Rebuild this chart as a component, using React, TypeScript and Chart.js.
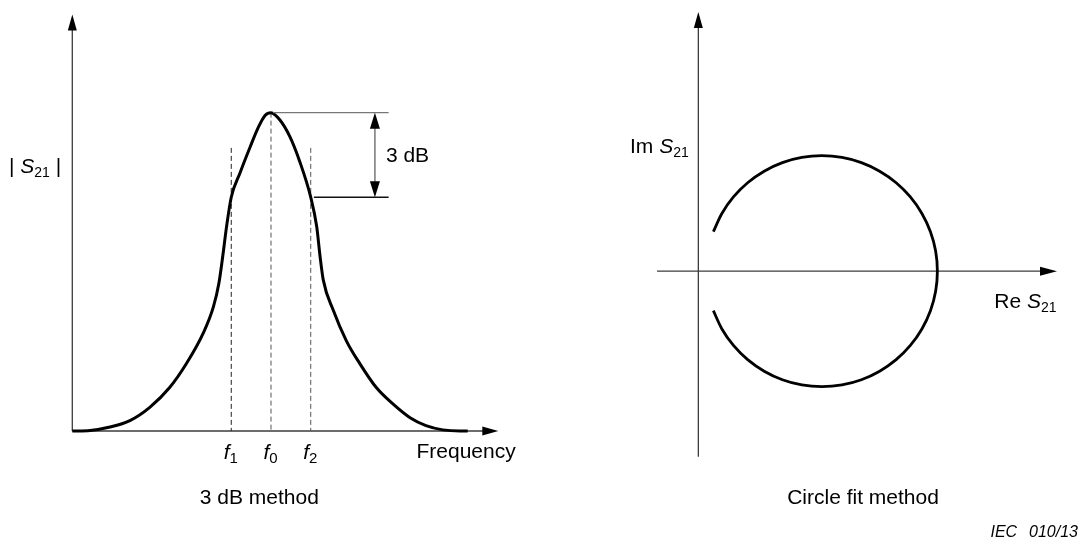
import { useEffect, useRef } from "react";
import { Chart, registerables } from "chart.js";

Chart.register(...registerables);

const FONT = '"Liberation Sans", Arial, Helvetica, sans-serif';
const AXIS_COLOR = "#3c3c3c";

// ---------- 3 dB method: |S21| in dB (relative to resonance) vs frequency ----------
const frequency = [
  0, 0.9, 1.9, 2.9, 3.9, 4.9, 5.76, 6.59, 7.1, 7.38, 7.58, 7.76, 8.0, 8.44, 8.95, 9.35, 9.7, 10,
  10.45, 10.95, 11.45, 12.0, 12.3, 12.47, 12.63, 13.13, 13.8, 14.47, 15.3, 16.15, 17.0, 17.8,
  18.65, 19.5, 19.9,
];
const s21Db = [
  -11.29, -11.27, -11.15, -10.92, -10.45, -9.75, -8.88, -7.82, -6.89, -6.04, -5.05, -4.06, -3.0,
  -2.14, -1.22, -0.54, -0.1, 0, -0.26, -0.85, -1.74, -3.0, -4.04, -5.1, -5.93, -7.0, -8.1, -8.9,
  -9.75, -10.34, -10.82, -11.1, -11.25, -11.29, -11.29,
];
const markerFreqs = [8, 10, 12]; // f1, f0, f2
const markerNames = ["1", "0", "2"];
const markerTopDb = [-1.25, 0, -1.25];
const peakDb = 0;
const halfPowerDb = -3;
const freqMin = 0;
const freqMax = 21.44;
const dbMin = -11.29;
const dbMax = 3.48;
// 3 dB bracket (frequency positions)
const bracketTopFrom = 10.1;
const bracketLowFrom = 12.16;
const bracketTo = 15.92;
const bracketArrowAt = 15.23;

// ---------- circle fit: S21 locus in the complex plane ----------
const reS21 = [
  0.13, 0.204, 0.304, 0.427, 0.57, 0.728, 0.896, 1.07, 1.244, 1.412, 1.57, 1.713, 1.836, 1.936,
  2.01, 2.055, 2.07, 2.055, 2.01, 1.936, 1.836, 1.713, 1.57, 1.412, 1.244, 1.07, 0.896, 0.728,
  0.57, 0.427, 0.304, 0.204, 0.13,
];
const imS21 = [
  0.342, 0.5, 0.643, 0.766, 0.866, 0.94, 0.985, 1.0, 0.985, 0.94, 0.866, 0.766, 0.643, 0.5,
  0.342, 0.174, 0, -0.174, -0.342, -0.5, -0.643, -0.766, -0.866, -0.94, -0.985, -1.0, -0.985,
  -0.94, -0.866, -0.766, -0.643, -0.5, -0.342,
];
const reMin = -0.358;
const reMax = 3.106;
const imMin = -1.606;
const imMax = 2.244;

type Seg = { t: string; italic?: boolean; sub?: boolean };

function arrowHead(
  ctx: CanvasRenderingContext2D,
  tipX: number,
  tipY: number,
  dx: number,
  dy: number,
  len: number,
  half: number
) {
  const bx = tipX - dx * len;
  const by = tipY - dy * len;
  const px = -dy;
  const py = dx;
  ctx.beginPath();
  ctx.moveTo(tipX, tipY);
  ctx.lineTo(bx + px * half, by + py * half);
  ctx.lineTo(bx - px * half, by - py * half);
  ctx.closePath();
  ctx.fill();
}

function richText(
  ctx: CanvasRenderingContext2D,
  segs: Seg[],
  x: number,
  y: number,
  align: "left" | "center" | "right",
  size = 21,
  subSize = 14
) {
  const fontOf = (s: Seg) => `${s.italic ? "italic " : ""}${s.sub ? subSize : size}px ${FONT}`;
  const widths = segs.map((s) => {
    ctx.font = fontOf(s);
    return ctx.measureText(s.t).width;
  });
  const total = widths.reduce((a, b) => a + b, 0);
  let cx = align === "left" ? x : align === "center" ? x - total / 2 : x - total;
  ctx.textAlign = "left";
  ctx.textBaseline = "alphabetic";
  segs.forEach((s, i) => {
    ctx.font = fontOf(s);
    ctx.fillText(s.t, cx, s.sub ? y + 4 : y);
    cx += widths[i];
  });
}

const resonancePlugin = {
  id: "resonanceDecor",
  beforeDatasetsDraw(chart: any) {
    const { ctx, chartArea: a, scales } = chart;
    const x0 = scales.x.getPixelForValue(freqMin);
    const y0 = scales.y.getPixelForValue(dbMin);
    ctx.save();
    ctx.strokeStyle = AXIS_COLOR;
    ctx.fillStyle = "#000";
    ctx.lineWidth = 1.3;
    ctx.beginPath();
    ctx.moveTo(x0, y0);
    ctx.lineTo(x0, a.top + 14);
    ctx.moveTo(x0, y0);
    ctx.lineTo(a.right - 14, y0);
    ctx.stroke();
    arrowHead(ctx, x0, a.top, 0, -1, 16, 4.5);
    arrowHead(ctx, a.right, y0, 1, 0, 16, 4.5);
    ctx.restore();
  },
  afterDatasetsDraw(chart: any) {
    const { ctx, chartArea: a, scales } = chart;
    const X = (v: number) => scales.x.getPixelForValue(v);
    const Y = (v: number) => scales.y.getPixelForValue(v);
    ctx.save();
    // 3 dB bracket
    const yTop = Y(peakDb);
    const yLow = Y(halfPowerDb);
    ctx.lineWidth = 1.3;
    ctx.strokeStyle = "#777";
    ctx.beginPath();
    ctx.moveTo(X(bracketTopFrom), yTop);
    ctx.lineTo(X(bracketTo), yTop);
    ctx.stroke();
    ctx.strokeStyle = "#111";
    ctx.beginPath();
    ctx.moveTo(X(bracketLowFrom), yLow);
    ctx.lineTo(X(bracketTo), yLow);
    ctx.stroke();
    const xa = X(bracketArrowAt);
    ctx.strokeStyle = "#777";
    ctx.lineWidth = 1.5;
    ctx.beginPath();
    ctx.moveTo(xa, yTop + 10);
    ctx.lineTo(xa, yLow - 10);
    ctx.stroke();
    ctx.fillStyle = "#000";
    arrowHead(ctx, xa, yTop, 0, -1, 16, 5);
    arrowHead(ctx, xa, yLow, 0, 1, 16, 5);
    ctx.fillStyle = "#000";
    richText(ctx, [{ t: "3 dB" }], xa + 11, (yTop + yLow) / 2 + 7.5, "left");

    // frequency marker labels
    markerFreqs.forEach((f, i) => {
      richText(
        ctx,
        [{ t: "f", italic: true }, { t: markerNames[i], sub: true }],
        X(f) - 0.5,
        a.bottom + 27.5,
        "center",
        21,
        15
      );
    });
    richText(ctx, [{ t: "Frequency" }], 416.5, 457.5, "left");
    richText(
      ctx,
      [{ t: "| " }, { t: "S", italic: true }, { t: "21", sub: true }, { t: " |" }],
      9,
      173.3,
      "left"
    );
    richText(ctx, [{ t: "3 dB method" }], 259.3, 504, "center");
    ctx.restore();
  },
};

const circlePlugin = {
  id: "circleDecor",
  beforeDatasetsDraw(chart: any) {
    const { ctx, chartArea: a, scales } = chart;
    const x0 = scales.x.getPixelForValue(0);
    const y0 = scales.y.getPixelForValue(0);
    ctx.save();
    ctx.strokeStyle = AXIS_COLOR;
    ctx.fillStyle = "#000";
    ctx.lineWidth = 1.3;
    ctx.beginPath();
    ctx.moveTo(x0, a.bottom);
    ctx.lineTo(x0, a.top + 14);
    ctx.moveTo(a.left, y0);
    ctx.lineTo(a.right - 14, y0);
    ctx.stroke();
    arrowHead(ctx, x0, a.top, 0, -1, 16, 4.5);
    arrowHead(ctx, a.right, y0, 1, 0, 17, 4.5);
    ctx.restore();
  },
  afterDatasetsDraw(chart: any) {
    const { ctx } = chart;
    ctx.save();
    ctx.fillStyle = "#000";
    richText(ctx, [{ t: "Im " }, { t: "S", italic: true }, { t: "21", sub: true }], 90, 152.7, "left");
    richText(ctx, [{ t: "Re " }, { t: "S", italic: true }, { t: "21", sub: true }], 454.3, 308, "left");
    richText(ctx, [{ t: "Circle fit method" }], 323, 504, "center");
    ctx.font = `italic 16px ${FONT}`;
    ctx.textBaseline = "alphabetic";
    ctx.textAlign = "left";
    ctx.fillText("IEC", 450.5, 537);
    ctx.textAlign = "right";
    ctx.fillText("010/13", 538, 537);
    ctx.restore();
  },
};

const baseOptions = {
  responsive: false,
  animation: false as const,
  events: [] as any[],
  plugins: { legend: { display: false }, tooltip: { enabled: false } },
};

export default function App() {
  const leftRef = useRef<HTMLCanvasElement>(null);
  const rightRef = useRef<HTMLCanvasElement>(null);

  useEffect(() => {
    const curve = frequency.map((f, i) => ({ x: f, y: s21Db[i] }));
    const markers = markerFreqs.map((f, i) => ({
      data: [
        { x: f, y: markerTopDb[i] },
        { x: f, y: dbMin },
      ],
      borderColor: i === 0 ? "#222" : "#555",
      borderWidth: 1,
      borderDash: [5, 3],
      pointRadius: 0,
      fill: false,
      clip: false as const,
    }));

    const left = new Chart(leftRef.current!, {
      type: "line",
      data: {
        datasets: [
          {
            data: curve,
            borderColor: "#000",
            borderWidth: 3,
            pointRadius: 0,
            fill: false,
            cubicInterpolationMode: "monotone",
            clip: false as const,
          },
          ...markers,
        ],
      },
      options: {
        ...baseOptions,
        layout: { padding: { left: 72.3, top: 14.5, right: 540 - 498.3, bottom: 539 - 431 } },
        scales: {
          x: { type: "linear", min: freqMin, max: freqMax, display: false },
          y: { type: "linear", min: dbMin, max: dbMax, display: false },
        },
      } as any,
      plugins: [resonancePlugin],
    });

    const locus = reS21.map((r, i) => ({ x: r, y: imS21[i] }));
    const right = new Chart(rightRef.current!, {
      type: "line",
      data: {
        datasets: [
          {
            data: locus,
            borderColor: "#000",
            borderWidth: 2.8,
            pointRadius: 0,
            fill: false,
            tension: 0.33,
            clip: false as const,
          },
        ],
      },
      options: {
        ...baseOptions,
        layout: { padding: { left: 117, top: 12, right: 541 - 517, bottom: 539 - 456.7 } },
        scales: {
          x: { type: "linear", min: reMin, max: reMax, display: false },
          y: { type: "linear", min: imMin, max: imMax, display: false },
        },
      } as any,
      plugins: [circlePlugin],
    });

    return () => {
      left.destroy();
      right.destroy();
    };
  }, []);

  return (
    <div
      style={{
        position: "fixed",
        left: 0,
        top: 0,
        width: 1081,
        height: 539,
        background: "#fff",
        overflow: "hidden",
      }}
    >
      <canvas
        ref={leftRef}
        width={540}
        height={539}
        style={{ position: "absolute", left: 0, top: 0, width: 540, height: 539 }}
      />
      <canvas
        ref={rightRef}
        width={541}
        height={539}
        style={{ position: "absolute", left: 540, top: 0, width: 541, height: 539 }}
      />
    </div>
  );
}
